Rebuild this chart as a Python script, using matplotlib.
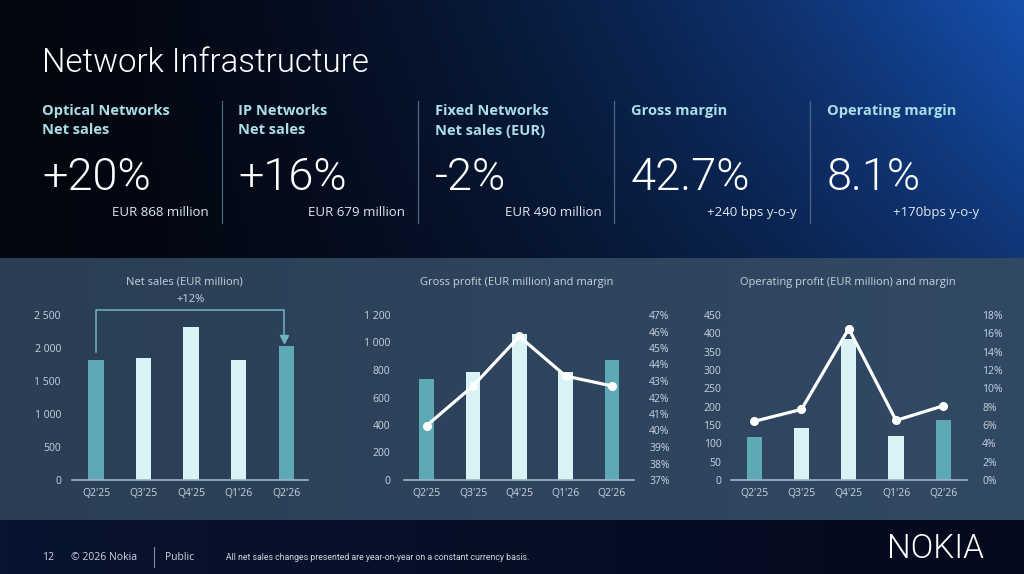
import matplotlib
matplotlib.use("Agg")
import matplotlib.pyplot as plt
import numpy as np

# data
quarters = ["Q2'25", "Q3'25", "Q4'25", "Q1'26", "Q2'26"]
net_sales = [1818, 1843, 2323, 1823, 2037]
gross_profit = [732, 788, 1062, 788, 870]
gross_margin = [40.3, 42.7, 45.7, 43.3, 42.7]
op_profit = [116, 143, 385, 120, 165]
op_margin = [6.4, 7.7, 16.5, 6.5, 8.1]
highlight = [True, False, False, False, True]

kpi_labels = ["Optical Networks\nNet sales", "IP Networks\nNet sales",
              "Fixed Networks\nNet sales (EUR)", "Gross margin", "Operating margin"]
kpi_values = ["+20%", "+16%", "-2%", "42.7%", "8.1%"]
kpi_notes = ["EUR 868 million", "EUR 679 million", "EUR 490 million",
             "+240 bps y-o-y", "+170bps y-o-y"]

TEAL = "#5ea9b6"
LIGHT = "#d9f2f6"
TICK = "#c9d3de"
THIN = ['Roboto', 'DejaVu Sans']
plt.rcParams['font.family'] = ['Open Sans', 'DejaVu Sans']

W, H = 1024, 574
fig = plt.figure(figsize=(W / 100, H / 100), dpi=100)

# background
yy, xx = np.mgrid[0:H, 0:W].astype(float)
t = xx / W
f = np.clip(t, 0, 1) ** 1.8 * (1 - 0.35 * yy / 258)
dark = np.array([3, 6, 15]) / 255
blue = np.array([22, 80, 175]) / 255
top = dark * (1 - f[..., None]) + blue * f[..., None]
pl = np.array([43, 62, 85]) / 255
pr = np.array([50, 73, 100]) / 255
panel = pl * (1 - t[..., None]) + pr * t[..., None]
fl = np.array([9, 20, 48]) / 255
fr = np.array([4, 10, 28]) / 255
foot = fl * (1 - t[..., None]) + fr * t[..., None]
img = np.where((yy < 258)[..., None], top, np.where((yy < 520)[..., None], panel, foot))

bg = fig.add_axes([0, 0, 1, 1], zorder=-10)
bg.imshow(img, extent=[0, W, H, 0], aspect='auto')
bg.set_xlim(0, W)
bg.set_ylim(H, 0)
bg.axis('off')

bg.text(42, 63, "Network Infrastructure", color="white", fontsize=23.8,
        fontweight=300, va='center', ha='left', family=THIN)

# KPI row
col_x = [42, 238, 435, 631, 827]
note_r = [209, 405, 602, 797, 979]
for i in range(5):
    bg.text(col_x[i], 104, kpi_labels[i], color="#aadde6", fontsize=10.5,
            fontweight='bold', va='top', ha='left', linespacing=1.5)
    bg.text(col_x[i], 190, kpi_values[i], color="white", fontsize=32.5,
            fontweight=300, va='baseline', ha='left', family=THIN)
    bg.text(note_r[i], 216, kpi_notes[i], color="#e2e8ef", fontsize=9.5,
            va='baseline', ha='right')
for x in [222, 418, 614, 810]:
    bg.plot([x, x], [101, 223], color="#4f6480", lw=0.9)


def fmt_thousands(v):
    return f"{int(v):,}".replace(",", " ")


def make_axes(left, right, ymax):
    ax = fig.add_axes([left / W, 1 - 480 / H, (right - left) / W, 165 / H])
    ax.set_facecolor('none')
    for s in ['top', 'right', 'left']:
        ax.spines[s].set_visible(False)
    ax.spines['bottom'].set_color("#9fb4c8")
    ax.spines['bottom'].set_linewidth(1.2)
    ax.set_ylim(0, ymax)
    ax.tick_params(length=0, colors=TICK, labelsize=7.5)
    ax.tick_params(axis='x', pad=6)
    return ax


def draw_bars(ax, vals):
    x = np.arange(len(quarters))
    cols = [TEAL if h else LIGHT for h in highlight]
    ax.bar(x, vals, width=0.32, color=cols, zorder=2)
    ax.set_xticks(x)
    ax.set_xticklabels(quarters)
    return x


# chart 1: net sales
ax1 = make_axes(72, 308, 2500)
x = draw_bars(ax1, net_sales)
ax1.set_xlim(-0.505, 4.46)
ax1.set_yticks(range(0, 2501, 500))
ax1.set_yticklabels([fmt_thousands(v) for v in range(0, 2501, 500)])
ax1.tick_params(axis='y', pad=8)
by = 2576
ax1.plot([x[0], x[0], x[4] - 0.04, x[4] - 0.04],
         [net_sales[0] + 125, by, by, net_sales[4] + 130],
         color="#6fb6c3", lw=1.1, clip_on=False)
ax1.plot([x[4] - 0.04], [net_sales[4] + 100], marker='v', color="#6fb6c3",
         markersize=6, clip_on=False)
pct = (net_sales[4] / net_sales[0] - 1) * 100
ax1.text(2, 2742, f"+{pct:.0f}%", ha='center', va='center', color=TICK, fontsize=8)
bg.text(184, 282, "Net sales (EUR million)", ha='center', va='center', color=TICK, fontsize=8)

# chart 2: gross profit and margin
ax2 = make_axes(404, 634, 1200)
x = draw_bars(ax2, gross_profit)
ax2.set_xlim(-0.49, 4.475)
ax2.set_yticks(range(0, 1201, 200))
ax2.set_yticklabels([fmt_thousands(v) for v in range(0, 1201, 200)])
ax2.tick_params(axis='y', pad=10)
tw2 = ax2.twinx()
tw2.set_ylim(37, 47)
tw2.plot(x, gross_margin, color="white", lw=2.3, marker='o', markersize=5.5, zorder=3)
tw2.set_yticks(range(37, 48))
tw2.set_yticklabels([f"{v}%" for v in range(37, 48)])
tw2.tick_params(length=0, colors=TICK, labelsize=7.5, pad=11)
for s in tw2.spines.values():
    s.set_visible(False)
bg.text(517, 282, "Gross profit (EUR million) and margin", ha='center', va='center',
        color=TICK, fontsize=8)

# chart 3: operating profit and margin
ax3 = make_axes(731, 967, 450)
x = draw_bars(ax3, op_profit)
ax3.set_xlim(-0.49, 4.5)
ax3.set_yticks(range(0, 451, 50))
ax3.tick_params(axis='y', pad=7)
tw3 = ax3.twinx()
tw3.set_ylim(0, 18)
tw3.plot(x, op_margin, color="white", lw=2.3, marker='o', markersize=5.5, zorder=3)
tw3.set_yticks(range(0, 19, 2))
tw3.set_yticklabels([f"{v}%" for v in range(0, 19, 2)])
tw3.tick_params(length=0, colors=TICK, labelsize=7.5, pad=11)
for s in tw3.spines.values():
    s.set_visible(False)
bg.text(848, 282, "Operating profit (EUR million) and margin", ha='center', va='center',
        color=TICK, fontsize=8)

# footer
bg.text(42, 557, "12", color="#d0d6df", fontsize=7.5, va='center')
bg.text(71, 557, "© 2026 Nokia", color="#d0d6df", fontsize=7.5, va='center')
bg.plot([154, 154], [547, 567], color="#8090a8", lw=0.8)
bg.text(165, 557, "Public", color="#d0d6df", fontsize=7.5, va='center')
bg.text(226, 557, "All net sales changes presented are year-on-year on a constant currency basis.",
        color="#d0d6df", fontsize=6.3, va='center', family=['Roboto', 'DejaVu Sans'])
bg.text(935, 549, "NOKIA", color="white", fontsize=24, va='center', ha='center',
        family=THIN, fontweight=300)

fig.savefig("out.png", dpi=100)
